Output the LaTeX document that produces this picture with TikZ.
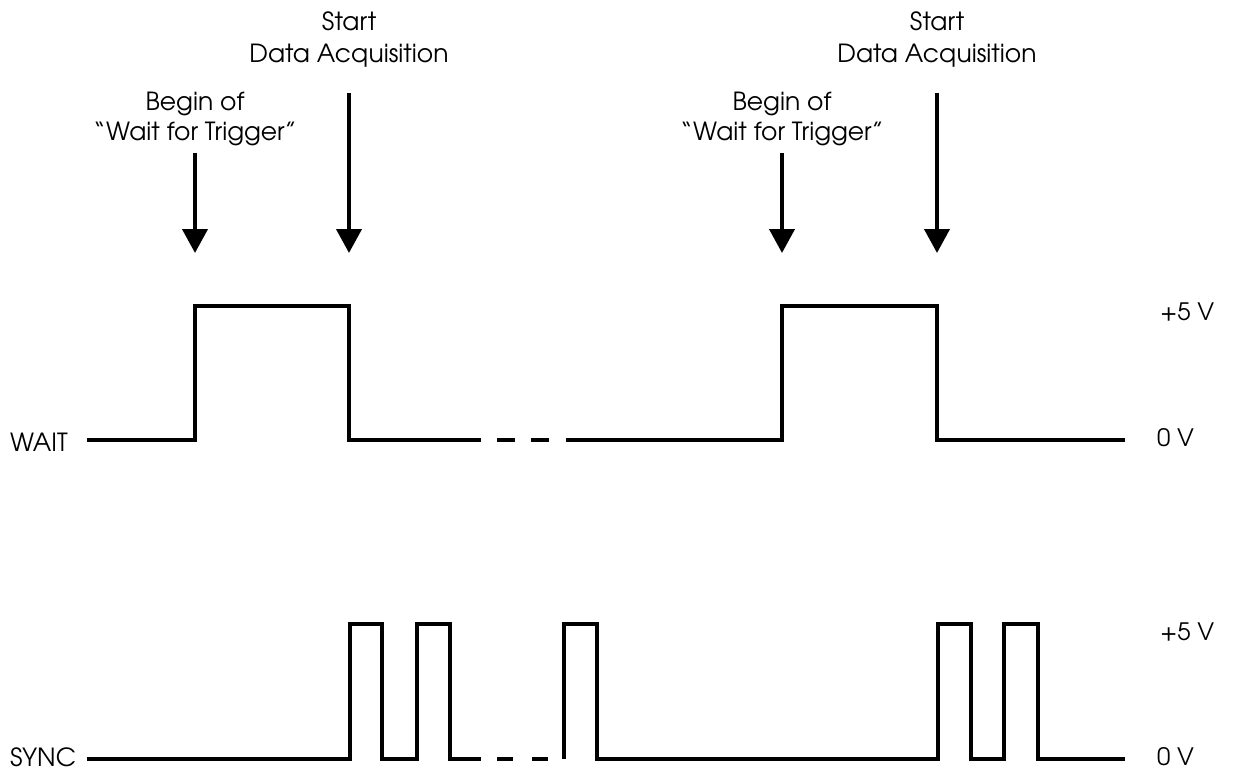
\documentclass[tikz,border=0pt]{standalone}
\usepackage{fontspec}
\setmainfont{TeX Gyre Adventor}
\usetikzlibrary{arrows.meta}
\tikzset{
  sig/.style={line width=4pt, line join=miter, line cap=butt},
  mark arrow/.style={line width=4pt, -{Triangle[width=25pt,length=24pt]}},
  lbl/.style={font=\fontsize{25}{31}\selectfont, inner sep=0pt, align=center},
  lvl/.style={font=\fontsize{24}{28}\selectfont, inner sep=0pt, anchor=base west},
}
\begin{document}
\begin{tikzpicture}[x=1pt,y=-1pt]
\useasboundingbox (0,0) rectangle (1235,774);
% labels on the left
\node[lbl, anchor=base west] (wait) at (10,451) {WAIT};
\node[lbl, anchor=base west] (sync) at (10,766) {SYNC};
% level labels on the right
\node[lvl] (w5) at (1160,320) {+5 V};
\node[lvl] (w0) at (1157,446) {0 V};
\node[lvl] (s5) at (1160,640) {+5 V};
\node[lvl] (s0) at (1157,765) {0 V};
% event labels
\node[lbl, anchor=base] (b1a) at (195,110) {Begin of};
\node[lbl, anchor=base] (b1b) at (195,140) {“Wait for Trigger”};
\node[lbl, anchor=base] (s1a) at (349,30) {Start};
\node[lbl, anchor=base] (s1b) at (349,62) {Data Acquisition};
\node[lbl, anchor=base] (b2a) at (782,110) {Begin of};
\node[lbl, anchor=base] (b2b) at (782,140) {“Wait for Trigger”};
\node[lbl, anchor=base] (s2a) at (937,30) {Start};
\node[lbl, anchor=base] (s2b) at (937,62) {Data Acquisition};
% arrows
\coordinate (a1t) at (195,153); \coordinate (a1b) at (195,253);
\coordinate (a2t) at (349,93);  \coordinate (a2b) at (349,253);
\coordinate (a3t) at (782,153); \coordinate (a3b) at (782,253);
\coordinate (a4t) at (937,93);  \coordinate (a4b) at (937,253);
\draw[mark arrow] (a1t) -- (a1b);
\draw[mark arrow] (a2t) -- (a2b);
\draw[mark arrow] (a3t) -- (a3b);
\draw[mark arrow] (a4t) -- (a4b);
% WAIT signal
\draw[sig] (87,440) -- (195,440) -- (195,306) -- (349,306) -- (349,440) -- (481,440);
\draw[sig] (497,440) -- (515,440);
\draw[sig] (531,440) -- (549,440);
\draw[sig] (566,440) -- (782,440) -- (782,306) -- (937,306) -- (937,440) -- (1125,440);
% SYNC signal
\draw[sig] (87,759) -- (350,759) -- (350,624) -- (382,624) -- (382,759) -- (417,759) -- (417,624) -- (450,624) -- (450,759) -- (481,759);
\draw[sig] (497,759) -- (513,759);
\draw[sig] (532,759) -- (548,759);
\draw[sig] (564,759) -- (564,624) -- (597,624) -- (597,759) -- (938,759) -- (938,624) -- (971,624) -- (971,759) -- (1004,759) -- (1004,624) -- (1038,624) -- (1038,759) -- (1125,759);
\end{tikzpicture}
\end{document}
